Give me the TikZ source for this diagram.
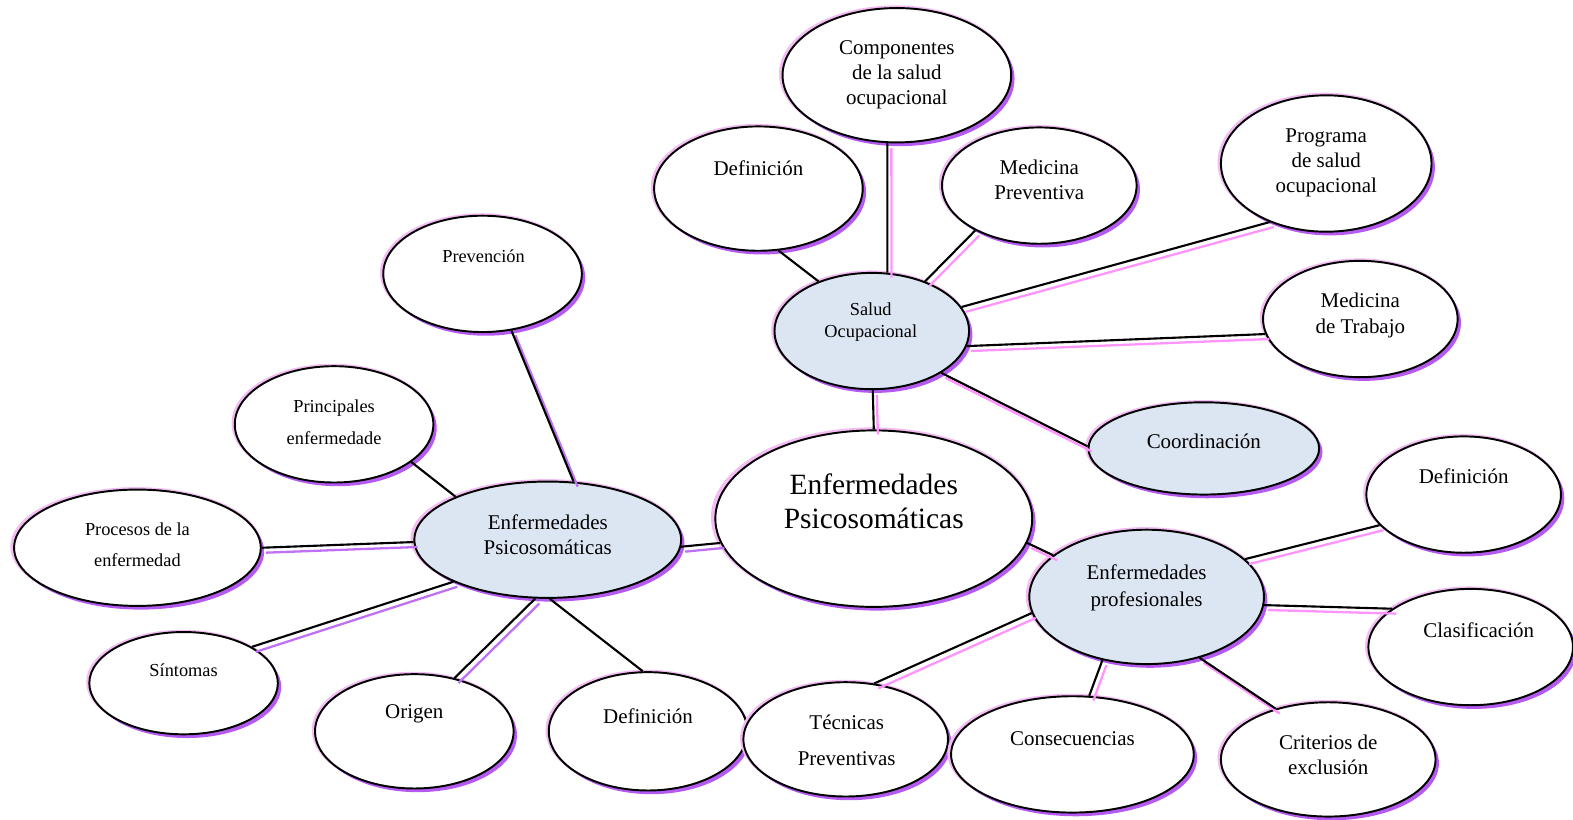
\documentclass[tikz,border=0pt]{standalone}
\usepackage{fontspec}
\setmainfont{Liberation Serif}
\usetikzlibrary{shapes.geometric,shadows}

\definecolor{hubblue}{HTML}{DCE6F2}
\definecolor{glowpink}{HTML}{F4BCF4}
\definecolor{glowviolet}{HTML}{B55AF0}
\definecolor{rulepink}{HTML}{FF94FF}
\definecolor{ruleviolet}{HTML}{C070F5}

\tikzset{
  bubble/.style={ellipse, draw=black, line width=1.1pt, fill=white, inner sep=0pt,
    general shadow={fill=glowpink, shadow scale=1.02, shadow xshift=-0.7pt, shadow yshift=0.7pt},
    general shadow={fill=glowviolet, shadow xshift=1.9pt, shadow yshift=-2.1pt}},
  hubfill/.style={fill=hubblue},
  lab/.style={align=center, inner sep=0pt, text=black},
  fsmall/.style={font=\fontsize{10.4pt}{12.5pt}\selectfont},
  fnorm/.style={font=\fontsize{11.9pt}{14.2pt}\selectfont},
  fbig/.style={font=\fontsize{16.7pt}{19.3pt}\selectfont},
  wire/.style={line width=1.2pt, black},
  pinkrule/.style={line width=1.3pt, rulepink, transform canvas={xshift=2.3pt, yshift=-2.8pt}},
  violetrule/.style={line width=1.3pt, ruleviolet, transform canvas={xshift=2.3pt, yshift=-2.8pt}}
}

% \bubble[extra style]{name}{x}{y}{half width}{half height}, sizes in pixel units
\newcommand\bubble[6][]{\node[bubble,#1,minimum width=#5*0.04cm,minimum height=#6*0.04cm] (#2) at (#3,#4) {};}

\begin{document}
\begin{tikzpicture}[x=0.02cm,y=-0.02cm]
\useasboundingbox (0,0) rectangle (1568,817);

% ---- bubbles ----
\bubble{comp}{894}{75}{114}{67}
\bubble{defa}{756}{188}{104}{62}
\bubble{medprev}{1036}{185}{97}{58}
\bubble{prog}{1322}{163}{105}{68}
\bubble[hubfill]{so}{869}{330}{97}{58}
\bubble{medtrab}{1356}{318}{97}{58}
\bubble[hubfill]{coord}{1200}{447}{115}{46}
\bubble{prev}{481}{273}{99}{58}
\bubble{princ}{333}{423}{99}{58}
\bubble{proc}{137}{546}{123}{58}
\bubble[hubfill]{hub}{546}{538}{133}{58}
\bubble{core}{871}{517}{158}{88}
\bubble{sint}{183}{681}{94}{51}
\bubble{orig}{413}{729}{99}{57}
\bubble{defb}{646}{729}{99}{59}
\bubble{tec}{843}{737}{102}{57}
\bubble{cons}{1069}{752}{121}{58}
\bubble{crit}{1324}{757}{107}{57}
\bubble[hubfill]{prof}{1143}{595}{117}{67}
\bubble{defc}{1459}{493}{97}{58}
\bubble{clas}{1466}{645}{102}{58}

% ---- labels ----
\node[lab,fnorm] (comp-t) at (894,75) {Componentes\\de la salud\\ocupacional};
\node[lab,fnorm] (defa-t) at (756,168) {Definición};
\node[lab,fnorm] (medprev-t) at (1036,179) {Medicina\\Preventiva};
\node[lab,fnorm] (prog-t) at (1322,162) {Programa\\de salud\\ocupacional};
\node[lab,fsmall] (so-t) at (868,321) {Salud\\Ocupacional};
\node[lab,font=\fontsize{11.9pt}{14.8pt}\selectfont] (medtrab-t) at (1356,314) {Medicina\\de Trabajo};
\node[lab,fnorm] (coord-t) at (1200,440) {Coordinación};
\node[lab,fsmall] (prev-t) at (482,255) {Prevención};
\node[lab,font=\fontsize{10.4pt}{18.1pt}\selectfont] (princ-t) at (333,421) {Principales\\enfermedade};
\node[lab,font=\fontsize{10.4pt}{18.1pt}\selectfont] (proc-t) at (137,543) {Procesos de la\\enfermedad};
\node[lab,fnorm] (hub-t) at (546,533) {Enfermedades\\Psicosomáticas};
\node[lab,fbig] (core-t) at (871,500) {Enfermedades\\Psicosomáticas};
\node[lab,fsmall] (sint-t) at (183,668) {Síntomas};
\node[lab,fnorm] (orig-t) at (413,712) {Origen};
\node[lab,fnorm] (defb-t) at (646,714) {Definición};
\node[lab,font=\fontsize{11.9pt}{20.4pt}\selectfont] (tec-t) at (844,738) {Técnicas\\Preventivas};
\node[lab,fnorm] (cons-t) at (1069,736) {Consecuencias};
\node[lab,fnorm] (crit-t) at (1324,752) {Criterios de\\exclusión};
\node[lab,font=\fontsize{11.9pt}{14.8pt}\selectfont] (prof-t) at (1143,586) {Enfermedades\\profesionales};
\node[lab,fnorm] (defc-t) at (1459,475) {Definición};
\node[lab,fnorm] (clas-t) at (1474,628) {Clasificación};

% ---- connectors: coloured offset rule first, black wire on top ----
% Salud Ocupacional cluster
\draw[pinkrule] (comp.262) -- (so.75);      \draw[wire] (comp.262) -- (so.75);
\draw[wire] (defa.288) -- (so.137);
\draw[pinkrule] (medprev.215) -- (so.43);   \draw[wire] (medprev.215) -- (so.43);
\draw[pinkrule] (so.15) -- (prog.226);      \draw[wire] (so.15) -- (prog.226);
\draw[pinkrule] (so.351) -- (medtrab.189);  \draw[wire] (so.351) -- (medtrab.189);
\draw[pinkrule] (so.329) -- (coord.179);    \draw[wire] (so.329) -- (coord.179);
\draw[pinkrule] (so.271) -- (core.90);      \draw[wire] (so.271) -- (core.90);

% central bubble to the two hubs
\draw[violetrule] (core.189) -- (hub.357);  \draw[wire] (core.189) -- (hub.357);
\draw[pinkrule] (core.351) -- (prof.156);   \draw[wire] (core.351) -- (prof.156);

% Enfermedades profesionales cluster
\draw[pinkrule] (prof.21) -- (defc.200);    \draw[wire] (prof.21) -- (defc.200);
\draw[pinkrule] (prof.356) -- (clas.154);   \draw[wire] (prof.356) -- (clas.154);
\draw[pinkrule] (prof.311) -- (crit.136);   \draw[wire] (prof.311) -- (crit.136);
\draw[pinkrule] (prof.235) -- (cons.74);    \draw[wire] (prof.235) -- (cons.74);
\draw[pinkrule] (prof.188) -- (tec.63);     \draw[wire] (prof.188) -- (tec.63);

% Enfermedades Psicosomaticas cluster
\draw[wire] (hub.272) -- (defb.95);
\draw[violetrule] (hub.258) -- (orig.53);   \draw[wire] (hub.258) -- (orig.53);
\draw[violetrule] (hub.204) -- (sint.28);   \draw[wire] (hub.204) -- (sint.28);
\draw[violetrule] (hub.181) -- (proc.0);    \draw[wire] (hub.181) -- (proc.0);
\draw[wire] (princ.334) -- (hub.155);
\draw[violetrule] (prev.297) -- (hub.66);   \draw[wire] (prev.297) -- (hub.66);
\end{tikzpicture}
\end{document}
